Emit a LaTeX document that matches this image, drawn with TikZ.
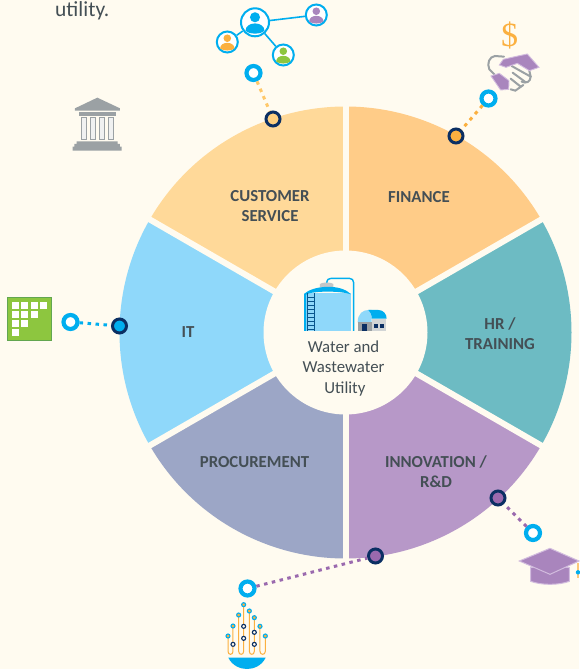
\documentclass[tikz,border=0pt]{standalone}
\usepackage{fontspec}
\setmainfont{Carlito}
\newfontfamily\dollarfont{Liberation Serif}
\definecolor{paper}{HTML}{FFFBF0}
\definecolor{inkgrey}{HTML}{444F55}
\definecolor{skyblue}{HTML}{00AEEF}
\definecolor{paleblue}{HTML}{8FD8FA}
\definecolor{navyblue}{HTML}{0B2F63}
\definecolor{amber}{HTML}{FBB040}
\definecolor{softamber}{HTML}{FFC869}
\definecolor{paleamber}{HTML}{FFD07F}
\definecolor{plum}{HTML}{9A69AE}
\definecolor{lilac}{HTML}{A985BD}
\definecolor{paleplum}{HTML}{D2BCDE}
\definecolor{stone}{HTML}{9BA1A4}
\definecolor{leaf}{HTML}{8DC63F}
\definecolor{darkleaf}{HTML}{62A650}
\usetikzlibrary{calc}
\tikzset{
    wheel-gap/.style = {draw=paper, line width=6pt},
    hub-disc/.style = {circle, fill=paper, minimum size=164pt, inner sep=0pt},
    wheel-label/.style = {font=\bfseries\fontsize{16.8}{20}\selectfont, text=inkgrey, align=center},
    hub-label/.style = {font=\fontsize{16.8}{20.5}\selectfont, text=inkgrey, align=center},
    rim-dot/.style = {circle, draw=navyblue, line width=3pt, minimum size=14pt, inner sep=0pt},
    ring-dot/.style = {circle, draw=skyblue, fill=white, line width=4.2pt, minimum size=14pt, inner sep=0pt},
    link-line/.style = {line width=3pt, dash pattern=on 3.5pt off 4.5pt},
    person-ring/.style = {circle, draw=skyblue, fill=white, line width=2pt, inner sep=0pt},
}
\newcommand{\personicon}[4]{
    \node[person-ring, minimum size=#3*2pt] (#1) at (#2) {};
    \fill[#4] ($(#2)+(0,-0.36*#3)$) circle[radius=0.36*#3 pt];
    \fill[#4] ($(#2)+(-0.68*#3,0.62*#3)$) .. controls ($(#2)+(-0.68*#3,-0.1*#3)$) and ($(#2)+(0.68*#3,-0.1*#3)$) .. ($(#2)+(0.68*#3,0.62*#3)$) .. controls ($(#2)+(0.35*#3,0.88*#3)$) and ($(#2)+(-0.35*#3,0.88*#3)$) .. cycle;
}
\begin{document}
\begin{tikzpicture}[x=1pt,y=-1pt]
\fill[paper] (0,0) rectangle (579,669);
\useasboundingbox (0,0) rectangle (579,669);
\coordinate (wheel-center) at (345.5,332.5);

\foreach \startangle/\wheelcolor in {150/FFD999, 90/FFCC88, 30/6DBBC3, -30/B798C8, -90/9CA6C6, -150/8FD8FA}{
    \definecolor{wheelfill}{HTML}{\wheelcolor}
    \fill[wheelfill] (wheel-center) -- ++(\startangle:226pt) arc[start angle=\startangle, delta angle=-60, radius=226pt] -- cycle;
}
\foreach \gapangle in {90,30,-30,-90,-150,150}{
    \draw[wheel-gap] (wheel-center) -- ++(\gapangle:236pt);
}
\node[hub-disc] (hub) at (wheel-center) {};

\node[wheel-label] (customer) at (270,206.5) {CUSTOMER\\SERVICE};
\node[wheel-label] (finance) at (419,197) {FINANCE};
\node[wheel-label] (training) at (500,334) {HR /\\TRAINING};
\node[wheel-label] (innovation) at (436,471.5) {INNOVATION /\\R\&D};
\node[wheel-label] (procurement) at (254.5,462) {PROCUREMENT};
\node[wheel-label] (it) at (188,332.5) {IT};
\node[hub-label] (utility-name) at (343.5,368.5) {Water and\\Wastewater\\\,Utility};
\node[anchor=base west, inner sep=0pt, font=\fontsize{21.5}{24}\selectfont, text=inkgrey] (utility-note) at (55,17) {utility.};

\node[ring-dot] (ring-customer) at (253.5,73) {};
\node[ring-dot] (ring-finance) at (488.5,98.5) {};
\node[ring-dot] (ring-it) at (70.5,322) {};
\node[ring-dot] (ring-innovation) at (533,533) {};
\node[ring-dot] (ring-procurement) at (247.5,588.5) {};
\node[rim-dot, fill=paleamber] (rim-customer) at (273,119) {};
\node[rim-dot, fill=amber] (rim-finance) at (456,136) {};
\node[rim-dot, fill=skyblue] (rim-it) at (119.5,326) {};
\node[rim-dot, fill=plum] (rim-innovation) at (498,498) {};
\node[rim-dot, fill=plum] (rim-procurement) at (375.5,556) {};
\draw[link-line, softamber] (ring-customer) -- (rim-customer);
\draw[link-line, amber] (ring-finance) -- (rim-finance);
\draw[link-line, skyblue] (ring-it) -- (rim-it);
\draw[link-line, plum] (ring-innovation) -- (rim-innovation);
\draw[link-line, plum] (ring-procurement) -- (rim-procurement);

\personicon{person-main}{255,22.3}{14}{skyblue}
\personicon{person-orange}{227.3,42}{10.5}{amber}
\personicon{person-green}{283.3,55}{10.5}{leaf}
\personicon{person-purple}{316.3,15}{10.5}{lilac}
\draw[skyblue, line width=1.6pt] (person-main) -- (person-orange);
\draw[skyblue, line width=1.6pt] (person-main) -- (person-green);
\draw[skyblue, line width=1.6pt] (person-main) -- (person-purple);

\node[font=\dollarfont\fontsize{34}{34}\selectfont, text=amber, inner sep=0pt] (dollar-sign) at (509.5,35) {\$};
\begin{scope}[shift={(440,10)},x=0.3333pt,y=-0.3333pt]
    \draw[stone, line width=2pt, line cap=round] (192,140) -- (165,138) .. controls (148,140) and (140,160) .. (148,178) -- (165,195);
    \draw[stone, line width=2pt, line cap=round] (215,168) -- (272,200) .. controls (272,215) and (258,222) .. (245,215);
    \draw[stone, line width=2pt, line cap=round] (218,188) -- (256,216);
    \draw[stone, line width=2pt, line cap=round] (212,206) -- (242,230);
    \draw[stone, line width=2pt, line cap=round] (212,238) -- (226,242) -- (250,225);
    \draw[stone, line width=2pt, line cap=round] (268,182) -- (272,200);
    \fill[lilac, draw=paleplum, line width=0.9pt] (178,165) -- (190,148) -- (225,140) -- (262,132) -- (297,172) -- (268,182) -- (232,160) -- (198,172) -- cycle;
    \fill[lilac, draw=paleplum, line width=0.9pt] (153,198) -- (178,190) -- (207,212) -- (206,238) -- (182,240) -- cycle;
\end{scope}

\begin{scope}[shift={(270,260)},x=0.3333pt,y=-0.3333pt]
    \fill[paleblue] (102,100) rectangle (242,213);
    \fill[stone!60] (150,82) -- (150,72) .. controls (155,66) and (185,66) .. (190,72) -- (190,82) -- cycle;
    \fill[skyblue] (102,103) .. controls (125,76) and (215,70) .. (242,103) .. controls (215,92) and (125,92) .. (108,104) -- (108,213) -- (102,213) -- cycle;
    \draw[skyblue, line width=1.4pt] (170,68) .. controls (172,58) and (176,55) .. (184,55) -- (238,55) .. controls (246,55) and (251,60) .. (251,68) -- (251,213);
    \draw[navyblue!70!skyblue, line width=0.9pt] (112,100) -- (112,213) (134,100) -- (134,213);
    \foreach \rungy in {112,124,...,208}{
        \draw[navyblue!70!skyblue, line width=0.9pt] (112,\rungy) -- (134,\rungy);
    }
    \fill[paleblue] (263,187) .. controls (263,160) and (280,150) .. (295,150) -- (305,150) -- (305,187) -- cycle;
    \fill[skyblue] (295,150) -- (325,150) .. controls (340,150) and (350,162) .. (350,176) -- (305,176) .. controls (305,165) and (303,155) .. (295,150) -- cycle;
    \fill[stone] (265,187) rectangle (305,213);
    \fill[stone!45] (305,178) rectangle (348,213);
    \fill[navyblue] (277,192) rectangle (292,213);
    \fill[navyblue] (312,192) rectangle (324,204);
    \fill[navyblue] (329,192) rectangle (341,204);
\end{scope}

\begin{scope}[shift={(200,560)},x=0.3333pt,y=-0.3333pt]
    \foreach \leftx/\lefty/\rightx/\righty in {84/228/99/198, 116/165/131/134, 148/153/163/173, 180/199/196/228}{
        \draw[amber, line width=1pt] (\leftx,\lefty) -- (\leftx,274) .. controls (\leftx,286) and (\rightx,286) .. (\rightx,274) -- (\rightx,\righty);
        \fill[amber, draw=skyblue, line width=1.1pt] (\leftx,\lefty) circle[radius=2pt];
        \fill[amber, draw=skyblue, line width=1.1pt] (\rightx,\righty) circle[radius=2pt];
    }
    \foreach \chipx/\chipy in {99/253, 131/199, 131/235, 163/217, 163/253}{
        \fill[paper, draw=navyblue, line width=1.1pt] (\chipx,\chipy) circle[radius=2pt];
    }
    \fill[skyblue] (85,293) -- (197,293) .. controls (185,318) and (160,327) .. (141,327) .. controls (122,327) and (97,318) .. (85,293) -- cycle;
\end{scope}

\begin{scope}[shift={(480,480)},x=0.3333pt,y=-0.3333pt]
    \fill[lilac, draw=paleplum, line width=1pt] (152,262) -- (152,304) .. controls (185,316) and (235,316) .. (268,304) -- (268,262) -- cycle;
    \fill[lilac, draw=paleplum, line width=1pt] (118,243) -- (210,205) -- (297,243) -- (210,283) -- cycle;
    \fill[amber!70] (290,250) rectangle (297,293);
    \fill[skyblue] (294,277) circle[radius=2.2pt];
\end{scope}

\fill[leaf, draw=darkleaf, line width=1.3pt] (7.5,297.5) rectangle (51.5,340.5);
\foreach \gridrow/\gridcols in {0/3, 1/2, 2/1, 3/0}{
    \foreach \gridcol in {0,...,\gridcols}{
        \fill[white] (12+9.3*\gridcol,302+9*\gridrow) rectangle ++(7,7);
    }
}

\begin{scope}[shift={(50,0)},x=0.3333pt,y=-0.3333pt]
    \fill[stone] (75,325) -- (142,293) -- (210,325) -- (210,332) -- (75,332) -- cycle;
    \fill[stone] (87,336) rectangle (198,348);
    \foreach \columnx in {93,120,148,175}{
        \fill[white!85!stone, draw=stone, line width=0.9pt] (\columnx,353) rectangle ++(15,64);
    }
    \fill[stone] (80,424) -- (203,424) -- (203,432) -- (210,432) -- (210,440) -- (215,440) -- (215,452) -- (68,452) -- (68,440) -- (73,440) -- (73,432) -- (80,432) -- cycle;
\end{scope}
\end{tikzpicture}
\end{document}
